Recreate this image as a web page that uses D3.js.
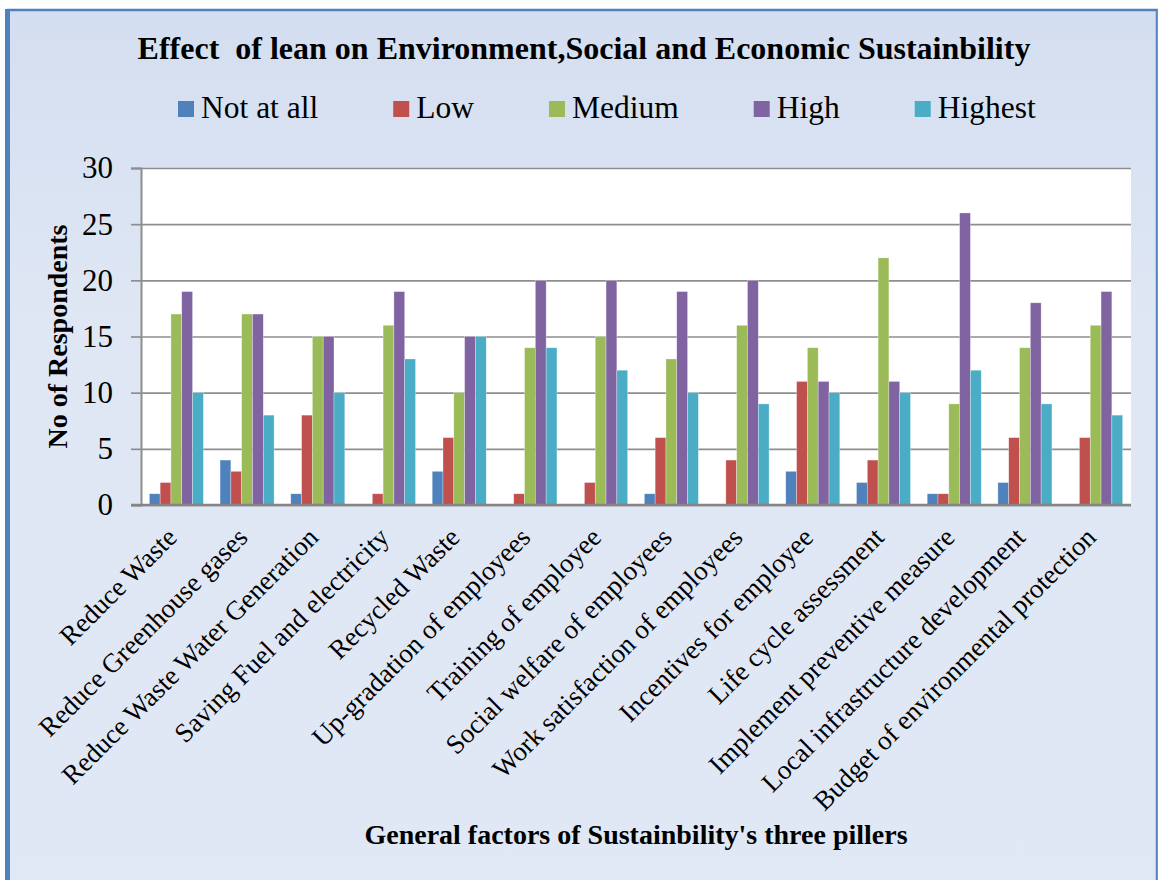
<!DOCTYPE html>
<html>
<head>
<meta charset="utf-8">
<script src="https://cdn.jsdelivr.net/npm/d3@7"></script>
<style>
  body { margin: 0; background: #fff; }
  text { font-family: "Liberation Serif", "Times New Roman", serif; fill: #000; }
</style>
</head>
<body>
<svg id="chart" width="1158" height="880"></svg>
<script>
// Chart data
const categories = [
    "Reduce Waste", "Reduce Greenhouse gases", "Reduce Waste Water Generation",
    "Saving Fuel and electricity", "Recycled Waste", "Up-gradation of employees",
    "Training of employee", "Social welfare of employees", "Work satisfaction of employees",
    "Incentives for employee", "Life cycle assessment", "Implement preventive measure",
    "Local infrastructure development", "Budget of environmental protection"
];
const seriesNames = ["Not at all", "Low", "Medium", "High", "Highest"];
const notAtAll = [1, 4, 1, 0, 3, 0, 0, 1, 0, 3, 2, 1, 2, 0];
const low      = [2, 3, 8, 1, 6, 1, 2, 6, 4, 11, 4, 1, 6, 6];
const medium   = [17, 17, 15, 16, 10, 14, 15, 13, 16, 14, 22, 9, 14, 16];
const high     = [19, 17, 15, 19, 15, 20, 20, 19, 20, 11, 11, 26, 18, 19];
const highest  = [10, 8, 10, 13, 15, 14, 12, 10, 9, 10, 10, 12, 9, 8];
const yTicks = [0, 5, 10, 15, 20, 25, 30];
const colors = ["#4F81BD", "#C0504D", "#9BBB59", "#8064A2", "#4BACC6"];

const seriesValues = [notAtAll, low, medium, high, highest];
const rows = categories.map((c, i) => ({
    category: c,
    values: seriesNames.map((s, j) => ({ series: s, value: seriesValues[j][i] }))
}));

const svg = d3.select("#chart");
const plot = { left: 141, right: 1131, top: 168, bottom: 505 };

// Background frame
const defs = svg.append("defs");
const grad = defs.append("linearGradient")
    .attr("id", "bg").attr("x1", 0).attr("y1", 0).attr("x2", 0).attr("y2", 1);
grad.append("stop").attr("offset", "0%").attr("stop-color", "#d3def0");
grad.append("stop").attr("offset", "35%").attr("stop-color", "#dfe7f4");
grad.append("stop").attr("offset", "100%").attr("stop-color", "#e0e8f5");

svg.append("rect")
    .attr("x", 8).attr("y", 10).attr("width", 1149).attr("height", 875)
    .attr("fill", "url(#bg)")
    .attr("stroke", "#4F81BD").attr("stroke-width", 2.5);
svg.append("line")
    .attr("x1", 7.5).attr("x2", 7.5).attr("y1", 9).attr("y2", 880)
    .attr("stroke", "#4F81BD").attr("stroke-width", 5);
svg.append("line")
    .attr("x1", 1157.5).attr("x2", 1157.5).attr("y1", 9).attr("y2", 880)
    .attr("stroke", "#6f95c8").attr("stroke-width", 1.5);

// Scales
const x0 = d3.scaleBand()
    .domain(categories)
    .range([plot.left, plot.right])
    .paddingInner(0.236)
    .paddingOuter(0.118);

const x1 = d3.scaleBand()
    .domain(seriesNames)
    .range([0, x0.bandwidth()]);

const y = d3.scaleLinear()
    .domain([0, 30])
    .range([plot.bottom, plot.top]);

const color = d3.scaleOrdinal().domain(seriesNames).range(colors);

// Plot area
svg.append("rect")
    .attr("x", plot.left).attr("y", plot.top)
    .attr("width", plot.right - plot.left).attr("height", plot.bottom - plot.top)
    .attr("fill", "#fff");

// Gridlines
svg.append("g")
    .attr("transform", `translate(${plot.left},0)`)
    .call(d3.axisLeft(y).tickValues(yTicks).tickSize(-(plot.right - plot.left)).tickFormat(""))
    .call(g => g.select(".domain").remove())
    .call(g => g.selectAll(".tick line").attr("stroke", "#8e8e8e").attr("stroke-width", 1.7));

// Bars
svg.append("g")
    .selectAll("g")
    .data(rows)
    .join("g")
    .attr("transform", d => `translate(${x0(d.category)},0)`)
    .selectAll("rect")
    .data(d => d.values)
    .join("rect")
    .attr("x", d => x1(d.series))
    .attr("y", d => y(d.value))
    .attr("width", x1.bandwidth())
    .attr("height", d => y(0) - y(d.value))
    .attr("fill", d => color(d.series))
    .attr("stroke", "#ffffff").attr("stroke-opacity", 0.5).attr("stroke-width", 0.6);

// Y axis
const yAxis = svg.append("g")
    .attr("transform", `translate(${plot.left},0)`)
    .call(d3.axisLeft(y).tickValues(yTicks).tickSize(10).tickPadding(18));
yAxis.select(".domain").attr("stroke", "#8e8e8e").attr("stroke-width", 2);
yAxis.selectAll(".tick line").attr("stroke", "#8e8e8e").attr("stroke-width", 1.7);
yAxis.selectAll(".tick text")
    .style("font-family", "'Liberation Serif', 'Times New Roman', serif")
    .style("font-size", "31px").attr("fill", "#000");

// X axis baseline
svg.append("line")
    .attr("x1", plot.left - 10).attr("x2", plot.right)
    .attr("y1", plot.bottom).attr("y2", plot.bottom)
    .attr("stroke", "#858585").attr("stroke-width", 2.5);

// Category labels
svg.append("g")
    .selectAll("text")
    .data(categories)
    .join("text")
    .attr("text-anchor", "end")
    .attr("transform", d => `translate(${x0(d) + x0.bandwidth() / 2 + 2},${plot.bottom + 34}) rotate(-45)`)
    .style("font-size", "27px")
    .text(d => d);

// Title
svg.append("text")
    .attr("x", 584).attr("y", 59)
    .attr("text-anchor", "middle")
    .style("font-size", "32px").style("font-weight", "bold")
    .style("white-space", "pre")
    .text("Effect  of lean on Environment,Social and Economic Sustainbility");

// Axis titles
svg.append("text")
    .attr("transform", `translate(67,${(plot.top + plot.bottom) / 2}) rotate(-90)`)
    .attr("text-anchor", "middle")
    .style("font-size", "28px").style("font-weight", "bold")
    .text("No of Respondents");

svg.append("text")
    .attr("x", (plot.left + plot.right) / 2).attr("y", 844)
    .attr("text-anchor", "middle")
    .style("font-size", "28px").style("font-weight", "bold")
    .text("General factors of Sustainbility's three pillers");

// Legend
const legend = svg.append("g").attr("transform", "translate(178,0)");
let offset = 0;
seriesNames.forEach(name => {
    const item = legend.append("g").attr("transform", `translate(${offset},0)`);
    item.append("rect")
        .attr("x", 0).attr("y", 101).attr("width", 16).attr("height", 16)
        .attr("fill", color(name));
    const t = item.append("text")
        .attr("x", 23).attr("y", 118)
        .style("font-size", "31.5px")
        .text(name);
    offset += 23 + t.node().getComputedTextLength() + 75;
});
</script>
</body>
</html>
